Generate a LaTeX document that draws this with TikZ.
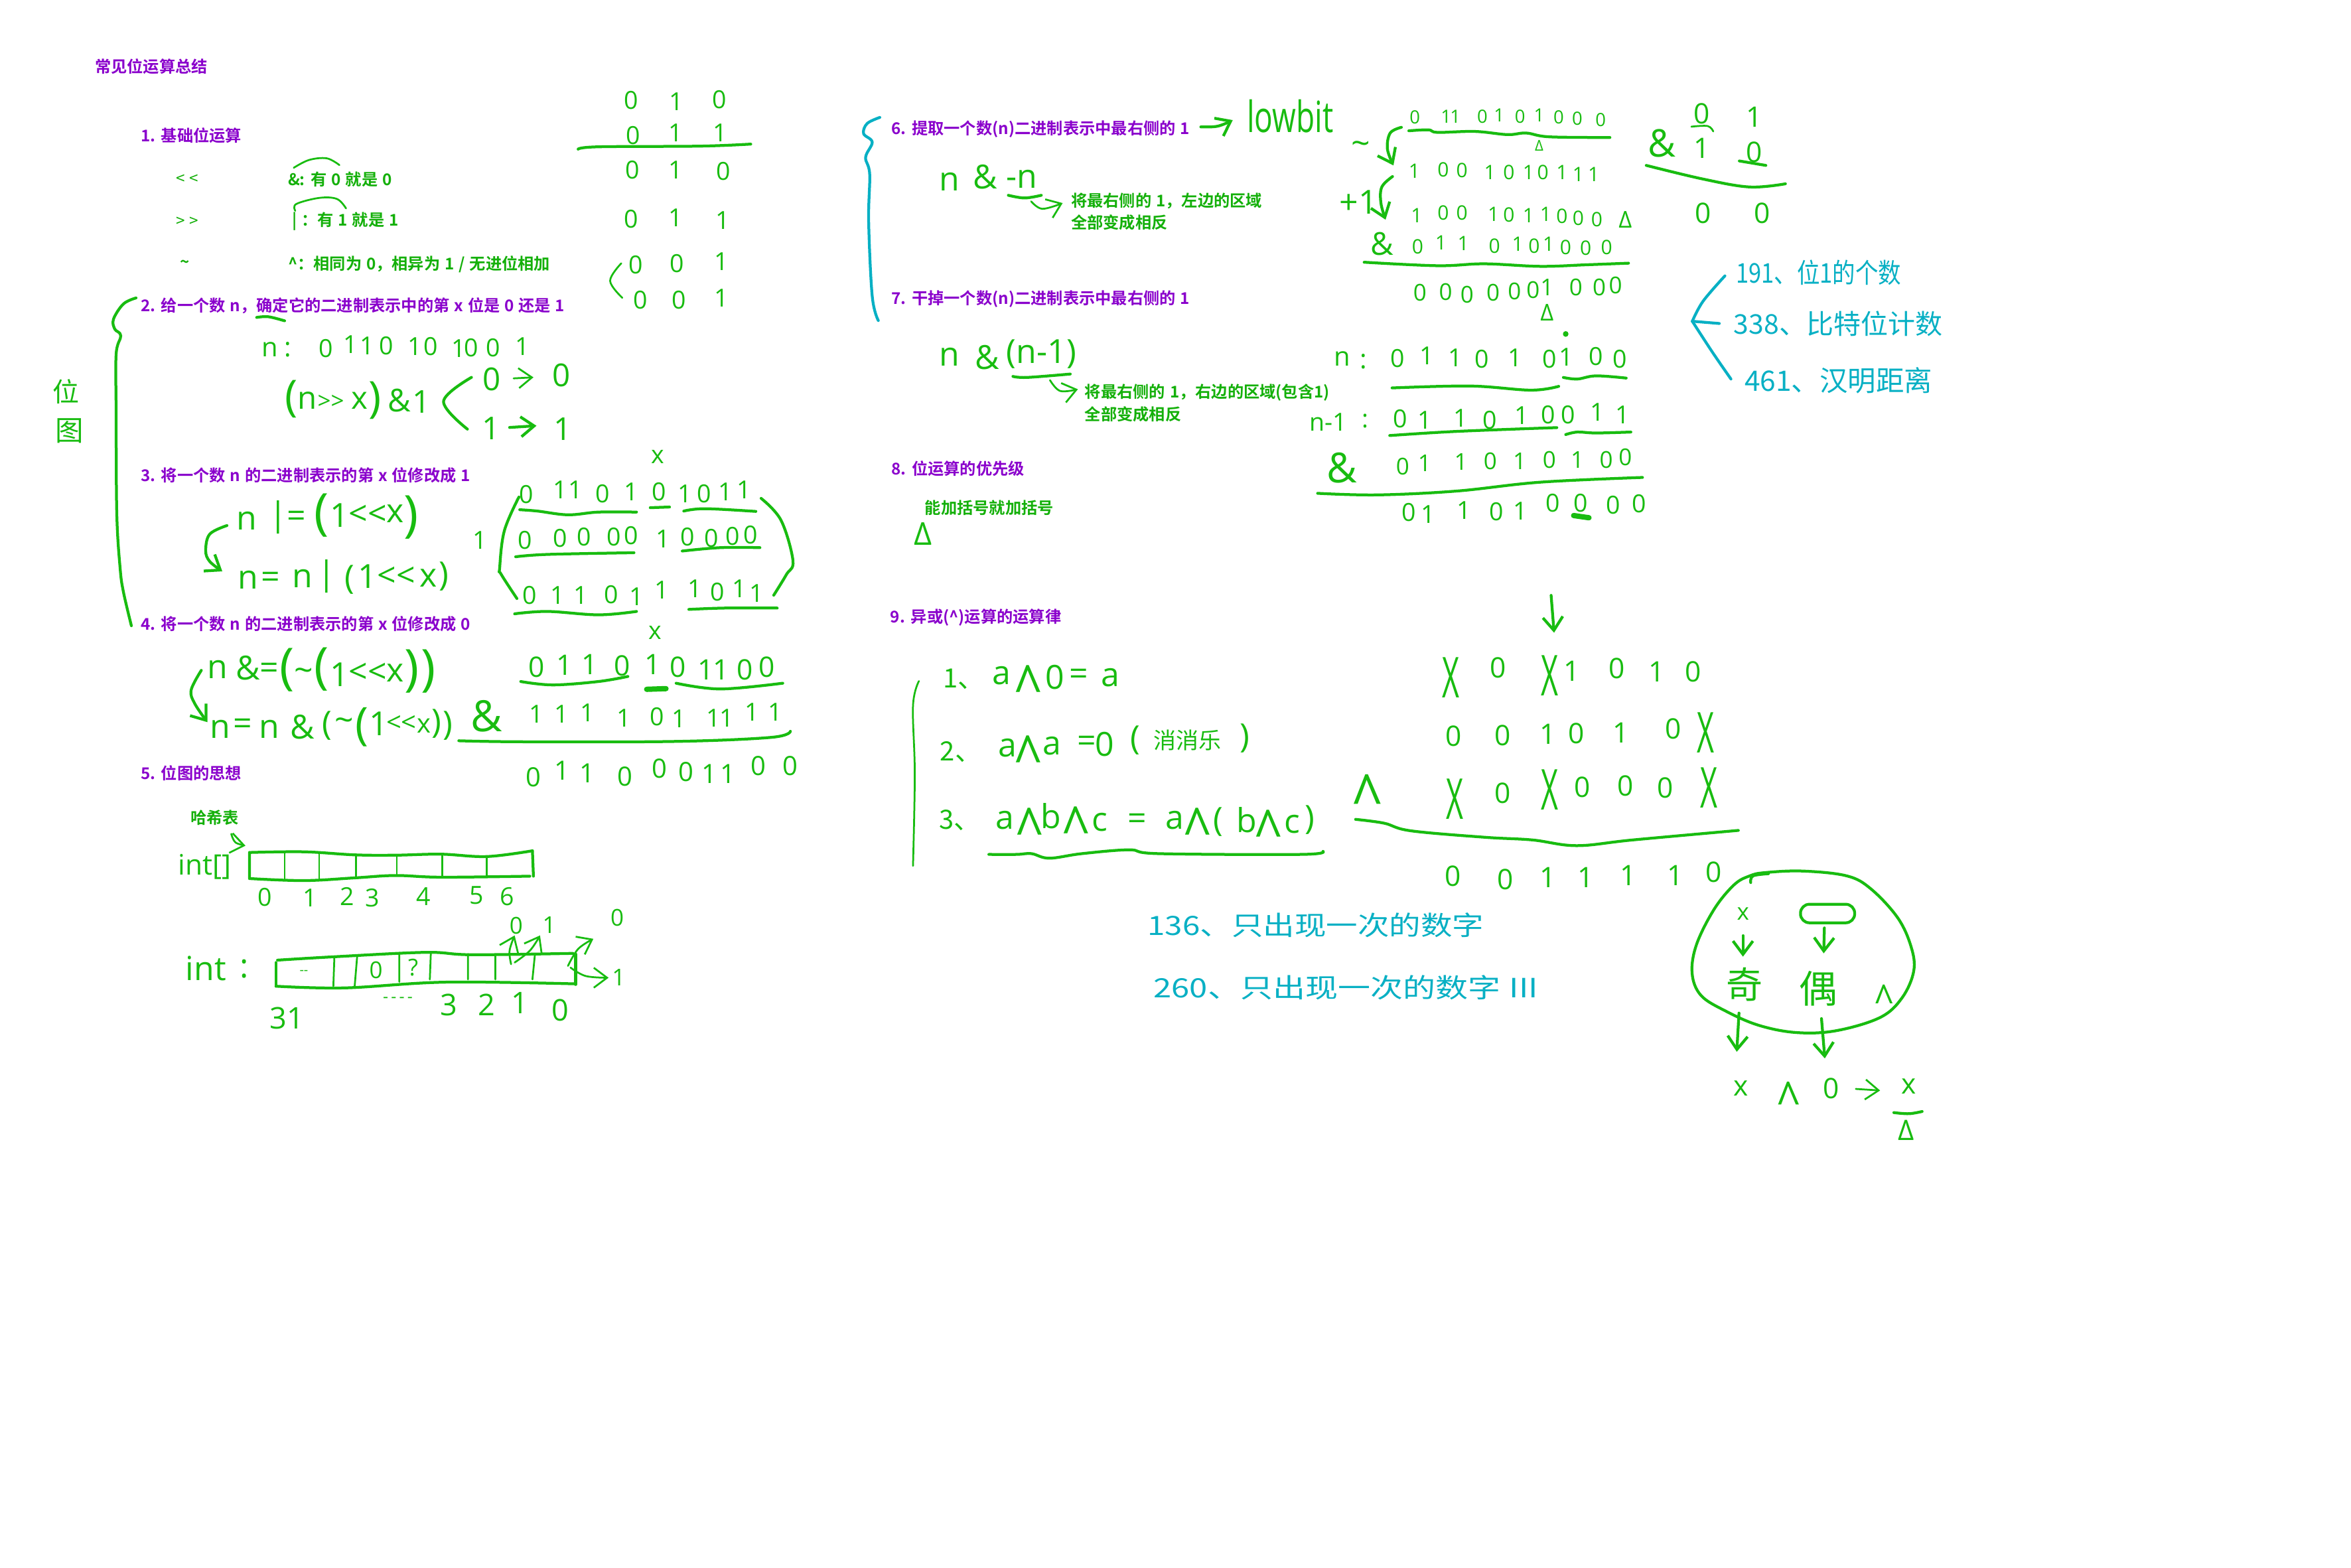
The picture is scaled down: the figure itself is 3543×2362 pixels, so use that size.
\documentclass[tikz,border=0pt]{standalone}
\usepackage{fontspec}
\usepackage{graphicx}
\usetikzlibrary{arrows.meta}
\newfontfamily\cjkf{Noto Sans CJK SC}[BoldFont=* Bold,WordSpace=1.25]
\newfontfamily\hwf{Open Sans}
\definecolor{hwg}{HTML}{18BC10}
\definecolor{tg}{HTML}{14B00A}
\definecolor{pur}{HTML}{8A00CC}
\definecolor{tea}{HTML}{08B0C4}
\newcounter{hwn}
\newcommand\D[2]{\foreach \a/\b/\c in {#2}{\stepcounter{hwn}\node[hw,scale=#1] (h\arabic{hwn}) at (\a,\b) {\c};}}
\newcommand\DX[3]{\foreach \a/\b/\c in {#3}{\stepcounter{hwn}\node[hw,xscale=#1,yscale=#2] (h\arabic{hwn}) at (\a,\b) {\c};}}
\newcommand\Cn[4][hwg]{\stepcounter{hwn}\node[hwc,text=#1,scale=#2] (h\arabic{hwn}) at (#3) {#4};}
\newcommand\Cx[5]{\stepcounter{hwn}\node[hwc,text=#1,xscale=#2,yscale=#3] (h\arabic{hwn}) at (#4) {#5};}
\newcommand\Pt[2]{\stepcounter{hwn}\node[ptext] (h\arabic{hwn}) at (#1) {#2};}
\newcommand\Gt[2]{\stepcounter{hwn}\node[gtext] (h\arabic{hwn}) at (#1) {#2};}
\newcommand\Ln[2][]{\draw[ink,#1] plot[smooth,tension=.6] coordinates {#2};}
\newcommand\wedgeg{\makebox[0pt]{\raisebox{-.94em}[0pt][0pt]{\scalebox{1.5}[1.8]{\textasciicircum}}}}
\tikzset{
 hw/.style={inner sep=0pt,text=hwg,font=\hwf},
 hwc/.style={inner sep=0pt,anchor=west,font=\cjkf},
 ptext/.style={inner sep=0pt,anchor=west,xshift=-.4pt,text=pur,font=\fontsize{4.85}{5}\cjkf\bfseries},
 gtext/.style={inner sep=0pt,anchor=west,xshift=-.4pt,text=tg,font=\fontsize{4.85}{5}\cjkf\bfseries},
 ink/.style={draw=hwg,line width=0.85pt,line cap=round,line join=round},
 thinink/.style={line width=0.55pt},
 teal/.style={draw=tea},
 barb/.style={-{Straight Barb[length=4pt,width=6pt]}},
 za/.style={shift={(60,60)},x=0.15306pt,y=-0.10204pt},
 zb/.style={shift={(60,800)},x=0.15306pt,y=-0.10204pt},
 zc/.style={shift={(1280,130)},x=0.15306pt,y=-0.10204pt},
 zd/.style={shift={(1900,100)},x=0.1403pt,y=-0.09567pt},
 ze/.style={shift={(1300,880)},x=0.17857pt,y=-0.1148pt},
 zf/.style={shift={(2500,1270)},x=0.06667pt,y=-0.06667pt},
}
\begin{document}
\begin{tikzpicture}[x=0.2pt,y=-0.2pt]
\useasboundingbox (0,0) rectangle (3543,2362);
\fill[white] (0,0) rectangle (3543,2362);
% long strokes in page pixels
\Ln{(205,449)(186,458)(171,481)(173,496)(182,506)(175,534)(175,621)(176,774)(181,856)(186,892)(198,943)}
\Ln{(782,749)(760,800)(753,856)(755,865)(779,902)}
\Ln{(1147,751)(1177,784)(1195,845)(1185,866)(1166,897)}
\Ln[barb]{(342,792)(316,805)(310,830)(316,846)(335,861)}
\begin{scope}[za]
\Pt{110,78}{常见位运算总结}
\Pt{200,283}{1. 基础位运算}
\Gt{270,412}{\mdseries < <}\Gt{490,412}{\&:  有 0 就是 0}
\Gt{270,537}{\mdseries > >}\Gt{498,537}{| ：有 1 就是 1}
\Gt{278,663}{\textasciitilde}\Gt{490,663}{\textasciicircum ：相同为 0，相异为 1 / 无进位相加}
\Pt{200,785}{2. 给一个数 n，确定它的二进制表示中的第 x 位是 0 还是 1}
\Pt{200,1287}{3. 将一个数 n 的二进制表示的第 x 位修改成 1}
\D{.75}{1165/178/0,1253/182/1,1338/177/0,1168/283/0,1252/275/1,1340/275/1,1167/385/0,1252/385/1,1346/388/0,1165/530/0,1252/525/1,1345/533/1,1173/665/0,1255/660/0,1342/655/1,1183/768/0,1258/768/0,1342/763/1}
\Ln{(1060,323)(1100,316)(1300,314)(1400,308)}
\Ln[thinink]{(1145,660)(1123,712)(1147,762)}
\Ln[thinink]{(500,378)(530,355)(565,350)(590,370)}
\Ln[thinink]{(503,505)(505,485)(550,467)(585,470)(603,498)}
\Ln{(427,820)(450,818)(482,830)}
\Cn{.8}{25,1040}{位}\Cn{.85}{30,1155}{图}
\D{.8}{453/915/n,488/915/:}
\D{.75}{563/912/0,612/900/1,645/903/1,682/903/0,738/905/1,770/905/0,825/912/1,850/910/0,893/910/0,950/905/1}
\D{1.3}{495/1062/(,660/1065/)}
\D{.95}{527/1065/n,630/1065/x,708/1065/\&,752/1070/1}
\D{.7}{573/1070/>>}
\Ln{(850,997)(795,1068)(842,1150)}
\D{.95}{890/1003/0,1027/990/0,888/1148/1,1030/1150/1}
\Ln[barb,thinink]{(933,1000)(972,997)}
\Ln[barb]{(925,1145)(978,1140)}
\D{.75}{1217/1232/x}
\D{.75}{958/1342/0,1025/1330/1,1055/1330/1,1108/1340/0,1165/1335/1,1220/1335/0,1270/1340/1,1308/1340/0,1350/1335/1,1387/1330/1}
\Ln{(945,1388)(980,1392)(1040,1403)(1100,1395)(1175,1395)}
\Ln{(1202,1382)(1240,1380)}
\Ln{(1268,1392)(1310,1385)(1410,1393)}
\D{.75}{867/1478/1,955/1478/0,1025/1472/0,1072/1468/0,1130/1468/0,1165/1465/0,1227/1475/1,1275/1468/0,1322/1472/0,1365/1467/0,1400/1462/0}
\Ln{(937,1527)(1000,1520)(1170,1515)}
\Ln{(1265,1510)(1340,1500)(1418,1500)}
\D{1}{408/1420/n,470/1410/|,505/1415/=,590/1405/1,646/1405/<<,700/1400/x}
\D{1.5}{555/1405/(,731/1410/)}
\end{scope}
\begin{scope}[zb]
\Pt{200,275}{4. 将一个数 n 的二进制表示的第 x 位修改成 0}
\Pt{200,715}{5. 位图的思想}
\Gt{298,848}{哈希表}
\D{1}{410/145/n,455/145/=,517/140/n,565/135/|,610/145/(,645/135/1,702/135/<<,765/140/x,795/135/)}
\D{.75}{965/190/0,1020/190/1,1065/190/1,1125/188/0,1175/195/1,1225/175/1,1290/170/1,1335/180/0,1377/170/1,1412/185/1}
\Ln{(935,245)(1000,238)(1100,248)(1175,238)}
\Ln{(1278,232)(1350,228)(1452,228)}
\D{.75}{1212/300/x}
\D{1}{350/410/n,410/405/\&,452/415/=,520/425/\textasciitilde,590/425/1,646/420/<<,700/420/x}
\D{1.5}{487/410/(,555/408/(,733/415/),765/415/)}
\Ln[barb]{(318,412)(298,470)(305,510)(330,565)}
\D{1}{355/585/n,400/578/=,452/585/n,517/580/\&,565/575/(,600/572/\textasciitilde,668/570/1}
\D{.8}{712/570/<<,756/575/x}
\D{1}{781/570/),803/575/)}
\D{1.35}{635/580/(}
\D{.85}{978/402/0,1033/397/1,1083/395/1,1147/398/0,1207/395/1,1257/402/0,1312/410/1,1341/410/1,1388/410/0,1432/402/0}
\Ln{(947,445)(1010,455)(1100,445)(1158,430)}
\Ln[line width=1.6pt]{(1195,468)(1233,466)}
\Ln{(1253,450)(1340,467)(1463,450)}
\D{1.3}{880/547/\&}
\D{.75}{977/542/1,1027/542/1,1078/537/1,1150/553/1,1215/548/0,1258/555/1,1327/553/1,1353/553/1,1402/535/1,1448/535/1}
\Ln{(825,620)(950,623)(1250,622)(1440,610)(1478,592)}
\D{.8}{972/728/0,1028/708/1,1078/715/1,1153/725/0,1220/702/0,1272/712/0,1318/718/1,1355/718/1,1415/695/0,1478/695/0}
\Ln[barb,thinink]{(377,895)(385,920)(405,930)}
\Ln{(413,950)(520,948)(620,957)(700,958)(790,955)(880,962)(970,945)}
\draw[ink] (970,945) -- (972,1020) (413,950) -- (413,1027);
\Ln{(413,1027)(520,1033)(620,1025)(700,1018)(790,1023)(965,1020)}
\draw[ink,thinink] (482,952)--(482,1030) (550,955)--(550,1030) (623,957)--(623,1022) (703,958)--(703,1018) (792,956)--(792,1020) (880,962)--(880,1022);
\D{.85}{325/992/int[]}
\D{.75}{443/1082/0,532/1085/1,605/1080/2,655/1085/3,755/1080/4,860/1077/5,920/1080/6}
\D{1}{327/1293/int,402/1293/:}
\Ln{(468,1268)(580,1258)(760,1245)(850,1252)(1050,1248)}
\draw[ink] (1055,1250) -- (1055,1340) (465,1275) -- (465,1345);
\Ln{(465,1345)(600,1350)(800,1333)(1055,1338)}
\draw[ink,thinink] (580,1260)--(578,1345) (625,1255)--(620,1345) (708,1250)--(708,1332) (770,1245)--(768,1325) (843,1250)--(843,1325) (897,1255)--(897,1325) (975,1250)--(970,1325);
\D{.4}{520/1305/--}
\D{.7}{662/1297/0,735/1290/?,938/1167/0,1003/1165/1,1137/1143/0,1140/1320/1}
\Ln[barb,thinink]{(928,1280)(925,1240)(935,1195)}
\Ln[barb,thinink]{(935,1275)(965,1240)(985,1195)}
\Ln[barb,thinink]{(1040,1285)(1060,1235)(1090,1205)}
\Ln[barb,thinink]{(1045,1290)(1075,1315)(1120,1320)}
\D{.9}{487/1440/31,805/1400/3,880/1400/2,945/1395/1,1025/1415/0}
\D{.5}{705/1385/-\,-\,-\,-}
\end{scope}
\begin{scope}[zc]
\Pt{84,127}{6. 提取一个数(n)二进制表示中最右侧的 1}
\Gt{438,338}{将最右侧的 1，左边的区域}
\Gt{438,402}{全部变成相反}
\Pt{84,628}{7. 干掉一个数(n)二进制表示中最右侧的 1}
\Gt{465,905}{将最右侧的 1，右边的区域(包含1)}
\Gt{465,968}{全部变成相反}
\Pt{84,1130}{8. 位运算的优先级}
\Gt{150,1246}{能加括号就加括号}
\Ln[teal]{(60,92)(35,110)(28,140)(45,165)(32,210)(40,260)(38,400)(45,620)(57,692)}
\Ln[barb]{(692,120)(725,118)(755,100)}
\DX{.92}{1.3}{868/88/lowbit}
\D{1}{197/282/n,268/268/\&,340/275/-n,197/800/n,272/800/\&,378/792/(n-1)}
\Ln{(313,322)(345,330)(378,322)}
\Ln[barb,thinink]{(358,340)(380,362)(420,345)}
\Ln{(322,857)(350,860)(435,850)}
\Ln[barb,thinink]{(395,868)(415,900)(450,895)}
\D{.95}{145/1322/Δ}
\end{scope}
\begin{scope}[zd]
\D{.55}{331/160/0,398/158/1,418/158/1,476/158/0,512/155/1,557/158/0,598/155/1,640/160/0,680/165/0,730/168/0}
\Ln{(318,203)(360,200)(380,208)(460,205)(530,215)(570,210)(620,222)(750,224)}
\D{.45}{598/250/Δ}
\D{1}{215/258/\textasciitilde,210/428/+1}
\Ln[barb]{(302,192)(278,210)(272,260)(285,312)}
\D{.6}{330/330/1,392/325/0,432/328/0,492/335/1,533/335/0,575/335/1,606/333/0,647/335/1,682/340/1,715/340/1}
\Ln[barb]{(283,347)(260,380)(258,430)(268,483)}
\D{.6}{335/470/1,392/462/0,432/462/0,500/465/1,533/467/0,575/470/1,612/465/1,647/472/0,682/478/0,722/482/0}
\D{.7}{783/483/Δ}
\D{.95}{260/560/\&}
\D{.6}{337/568/0,387/555/1,435/558/1,502/565/0,552/560/1,587/565/0,618/560/1,655/570/0,698/573/0,743/570/0}
\Ln{(222,617)(380,628)(480,622)(600,630)(700,625)(790,620)}
\D{.7}{342/712/0,397/710/0,443/720/0,499/712/0,545/708/0,585/705/0,615/697/1,677/697/0,727/695/0,762/690/0}
\D{.7}{615/775/Δ}
\fill[hwg] (655,843) circle [x radius=6,y radius=9];
\D{.8}{175/920/n,220/930/:}
\D{.75}{294/920/0,357/912/1,418/918/1,475/922/0,546/918/1,620/922/0,656/915/1,720/913/0,772/922/0}
\Ln{(282,1013)(450,1007)(580,1020)(640,1008)}
\Ln{(650,980)(680,985)(720,975)(785,982)}
\D{.75}{145/1120/n-1,225/1118/:}
\D{.75}{300/1110/0,352/1115/1,430/1108/1,492/1115/0,560/1100/1,618/1098/0,660/1098/0,723/1090/1,777/1098/1}
\Ln{(277,1163)(420,1150)(636,1138)}
\Ln{(655,1160)(680,1152)(720,1155)(795,1152)}
\D{1.25}{175/1265/\&}
\D{.7}{305/1260/0,352/1250/1,430/1245/1,493/1243/0,556/1243/1,620/1240/0,680/1240/1,742/1240/0,783/1232/0}
\Ln{(122,1345)(250,1350)(420,1338)(600,1310)(820,1295)}
\D{.75}{318/1405/0,360/1412/1,437/1398/1,507/1403/0,558/1400/1,628/1375/0,688/1375/0,757/1382/0,813/1377/0}
\Ln[line width=1.6pt]{(672,1415)(705,1422)}
\D{.85}{948/150/0,1060/160/1,947/258/1,1060/270/0,950/463/0,1077/462/0}
\D{1.15}{862/243/\&}
\Ln[thinink]{(925,190)(960,188)(972,205)}
\Ln{(1028,298)(1085,312)}
\Ln{(828,312)(950,355)(1050,380)(1127,370)}
\Ln[teal]{(997,660)(950,740)(927,803)}
\Ln[teal]{(927,803)(985,810)}
\Ln[teal]{(927,803)(970,900)(1010,985)}
\Cx{tea}{.69}{.82}{1020,650}{191、位1的个数}
\Cn[tea]{.82}{1015,810}{338、比特位计数}
\Cn[tea]{.85}{1038,990}{461、汉明距离}
\end{scope}
\begin{scope}[ze]
\Pt{48,88}{9. 异或(\textasciicircum)运算的运算律}
\Ln[thinink]{(95,255)(85,320)(88,500)(85,740)}
\D{1}{235/240/a,280/245/\wedgeg,325/245/0,365/245/=,418/245/a,245/430/a,280/430/\wedgeg,320/425/a,378/420/=,408/420/0,460/410/(,645/405/),240/620/a,282/620/\wedgeg,318/610/b,360/615/\wedgeg,400/625/c,463/625/=,527/620/a,565/620/\wedgeg,600/625/(,648/620/b,685/625/\wedgeg,725/630/c,755/620/)}
\Cn{.8}{135,250}{1、}\Cn{.8}{130,440}{2、}\Cn{.8}{128,620}{3、}
\Cn{.68}{490,410}{消消乐}
\Ln{(213,710)(260,710)(285,708)(315,720)(370,708)(450,698)(500,708)(740,710)(777,702)}
\Ln[barb]{(1162,30)(1167,128)}
\DX{.9}{1.7}{993/245/X,1160/240/X,1423/390/X,1000/565/X,1160/540/X,1428/535/X}
\D{.85}{1072/220/0,1197/228/1,1273/222/0,1340/230/1,1402/230/0,998/400/0,1080/397/0,1157/395/1,1205/393/0,1280/390/1,1368/380/0,1080/550/0,1215/533/0,1287/530/0,1355/535/0,996/767/0,1085/775/0,1157/770/1,1220/770/1,1292/765/1,1372/765/1,1437/757/0}
\D{1.1}{852/535/\wedgeg}
\Ln{(832,618)(880,628)(925,648)(1050,665)(1130,672)(1205,687)(1300,672)(1478,647)}
\Cx{tea}{.95}{.8}{480,895}{136、只出现一次的数字}
\Cx{tea}{.98}{.8}{490,1060}{260、只出现一次的数字 III}
\end{scope}
\begin{scope}[zf]
\draw[ink] plot[smooth cycle,tension=.6] coordinates {(480,135)(650,128)(850,150)(960,210)(1080,340)(1140,470)(1152,580)(1100,700)(1000,790)(800,850)(620,858)(450,825)(300,760)(190,690)(150,590)(170,460)(250,300)(340,190)(410,150)};
\Ln{(415,180)(425,150)(495,140)}
\D{.7}{380/322/x,1018/680/\wedgeg}
\draw[ink,rounded corners=2.7pt] (640,278) rectangle (885,362);
\Ln[barb]{(380,420)(380,515)}
\Ln[barb]{(748,385)(745,500)}
\Cn{1.1}{300,640}{奇}\Cn{1.15}{630,660}{偶}
\Ln[barb]{(362,770)(352,945)}
\Ln[barb]{(735,795)(750,975)}
\D{.85}{370/1110/x,588/1128/\wedgeg,780/1112/0,1130/1100/x,1118/1300/Δ}
\Ln[barb,thinink]{(890,1113)(1000,1120)}
\Ln{(1062,1220)(1130,1225)(1190,1215)}
\end{scope}
\end{tikzpicture}
\end{document}
